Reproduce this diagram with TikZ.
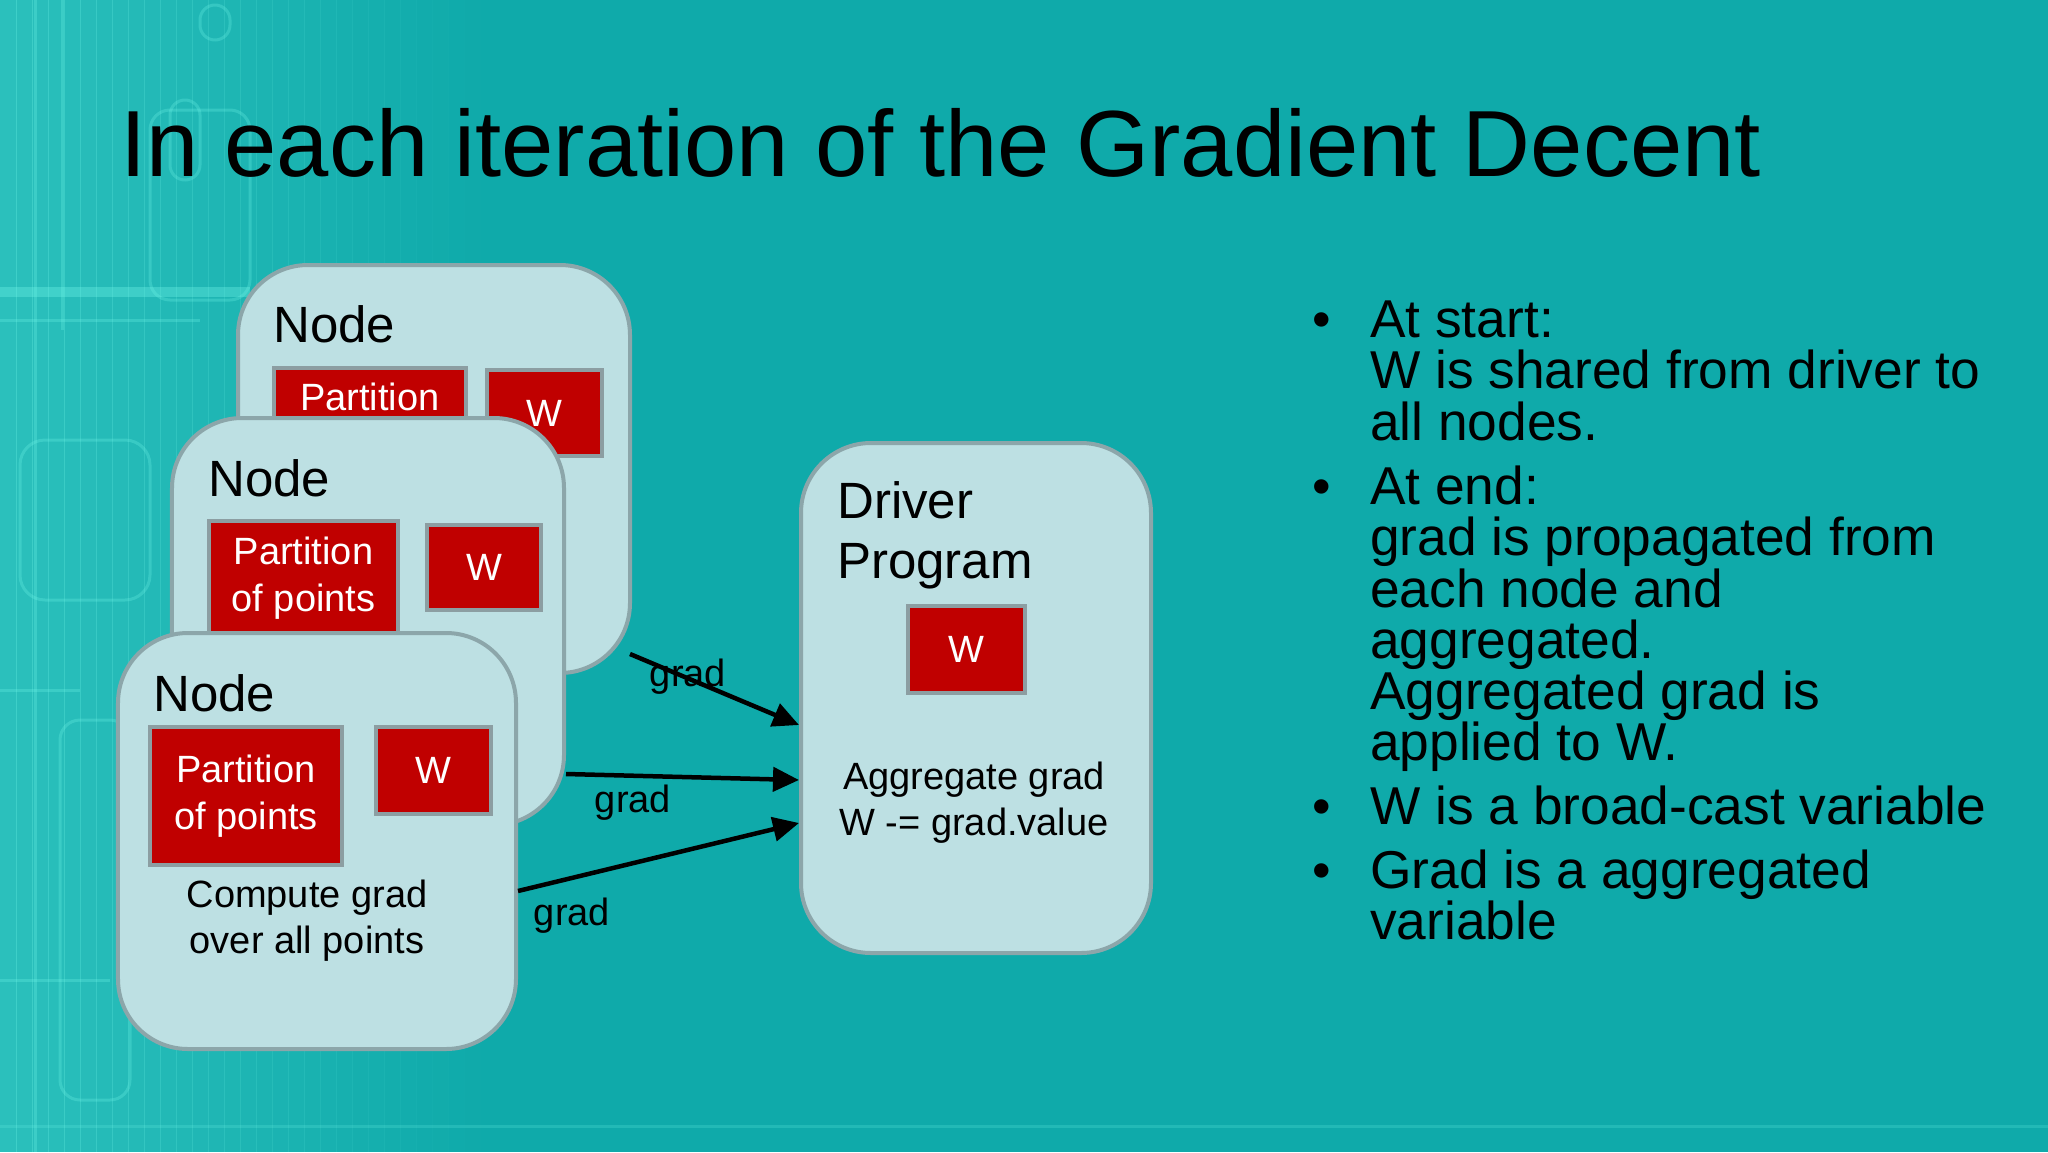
\documentclass[tikz,border=0pt]{standalone}
\usepackage{fontspec}
\setmainfont{Liberation Sans}
\usetikzlibrary{arrows.meta,calc}
\definecolor{bg}{HTML}{0FAAAA}
\definecolor{boxfill}{HTML}{BDE0E3}
\definecolor{boxline}{HTML}{8CA6AA}
\definecolor{redbox}{HTML}{C00000}
\definecolor{redline}{HTML}{8C9EA2}
\definecolor{glow}{HTML}{6FF5E8}
\begin{document}
\begin{tikzpicture}[x=1bp,y=-1bp,
  worker/.style={draw=boxline, line width=4bp, fill=boxfill, rounded corners=70bp, inner sep=0pt},
  redrect/.style={draw=redline, line width=4bp, fill=redbox, inner sep=0pt, text=white, align=center,
                  font=\fontsize{38bp}{47bp}\selectfont},
  bigtxt/.style={font=\fontsize{51bp}{60bp}\selectfont, inner sep=0pt, anchor=base west},
  smalltxt/.style={font=\fontsize{38bp}{46bp}\selectfont, inner sep=0pt, align=center},
  bline/.style={font=\fontsize{53.3bp}{60bp}\selectfont, inner sep=0pt, anchor=base west},
  flow/.style={line width=4.5bp, -{Triangle[length=26bp,width=24bp]}},
  deco/.style={draw=glow, line width=3bp, opacity=0.28},
]
\useasboundingbox (0,0) rectangle (2048,1152);
% background
\fill[bg] (0,0) rectangle (2048,1152);
\foreach \i [evaluate=\i as \op using {0.30*(1-\i/30)}] in {0,...,29}
  \fill[glow, opacity=\op] (\i*16,0) rectangle (\i*16+16.5,1152);
\draw[deco, line width=10bp, opacity=0.35] (0,292) -- (250,292);
\draw[deco] (0,320) -- (200,320);
\draw[deco] (35,0) -- (35,1152);
\draw[deco] (62,0) -- (62,330);
\draw[deco, rounded corners=20bp] (150,110) rectangle (250,300);
\draw[deco, rounded corners=25bp] (20,440) rectangle (150,600);
\draw[deco, rounded corners=20bp] (60,720) rectangle (130,1100);
\draw[deco, rounded corners=15bp] (170,100) rectangle (200,180);
\draw[deco, rounded corners=15bp] (200,5) rectangle (230,40);
\draw[deco] (0,690) -- (80,690);
\draw[deco] (0,980) -- (110,980);
\draw[deco, opacity=0.2] (0,1126) -- (2048,1126);

% title
\node[font=\fontsize{94bp}{100bp}\selectfont, inner sep=0pt, anchor=base west] (title) at (120,176)
  {In each iteration of the Gradient Decent};

% worker node 1 (back)
\node[worker, minimum width=392bp, minimum height=408bp] (n1) at (434,469) {};
\node[bigtxt] (n1t) at (273,342) {Node};
\node[redrect, minimum width=192bp, minimum height=113bp] (p1) at (370,424.5) {Partition\\of points};
\node[redrect, minimum width=115bp, minimum height=86bp] (w1) at (544.5,413) {W};

% worker node 2 (middle)
\node[worker, minimum width=392bp, minimum height=407bp] (n2) at (368,621.5) {};
\node[bigtxt] (n2t) at (208,496) {Node};
\node[redrect, minimum width=189bp, minimum height=115bp] (p2) at (303.5,578.5) {Partition\\of points};
\node[redrect, minimum width=114bp, minimum height=85bp] (w2) at (484,567.5) {W};

% worker node 3 (front)
\node[worker, minimum width=398bp, minimum height=416bp] (n3) at (317,841) {};
\node[bigtxt] (n3t) at (153,711) {Node};
\node[redrect, minimum width=192bp, minimum height=138bp] (p3) at (246,796) {Partition\\of points};
\node[redrect, minimum width=115bp, minimum height=87bp] (w3) at (433.5,770.5) {W};
\node[smalltxt] (cg) at (307,921) {Compute grad\\over all points};

% driver
\node[worker, minimum width=350bp, minimum height=510bp] (drv) at (976,698) {};
\node[bigtxt] (dt1) at (837,518) {Driver};
\node[bigtxt] (dt2) at (837,578) {Program};
\node[redrect, minimum width=117bp, minimum height=87bp] (wd) at (966.5,649.5) {W};
\node[smalltxt] (agg) at (974,803) {Aggregate grad\\W -= grad.value};

% connectors
\draw[flow] ($(n1.east)+(-2,185)$) -- ($(drv.west)+(0,27)$);
\draw[flow] ($(n2.east)+(0,152.5)$) -- ($(drv.west)+(0,82)$);
\draw[flow] ($(n3.east)+(0,50)$) -- ($(drv.west)+(0,125)$);
\node[smalltxt] (g1) at (688,677) {grad};
\node[smalltxt] (g2) at (633,803) {grad};
\node[smalltxt] (g3) at (572,916) {grad};

% bullet list
\foreach \yy/\nm in {337/b1,504/b2,824/b3,888/b4}
  \node[font=\fontsize{53bp}{60bp}\selectfont, inner sep=0pt, anchor=base] (\nm) at (1322,\yy) {•};
\node[bline] (l1) at (1370,337) {At start:};
\node[bline] (l2) at (1370,388.5) {W is shared from driver to};
\node[bline] (l3) at (1370,440) {all nodes.};
\node[bline] (l4) at (1370,504) {At end:};
\node[bline] (l5) at (1370,555.5) {grad is propagated from};
\node[bline] (l6) at (1370,607) {each node and};
\node[bline] (l7) at (1370,658) {aggregated.};
\node[bline] (l8) at (1370,709) {Aggregated grad is};
\node[bline] (l9) at (1370,760) {applied to W.};
\node[bline] (l10) at (1370,824) {W is a broad-cast variable};
\node[bline] (l11) at (1370,888) {Grad is a aggregated};
\node[bline] (l12) at (1370,939) {variable};
\end{tikzpicture}
\end{document}
